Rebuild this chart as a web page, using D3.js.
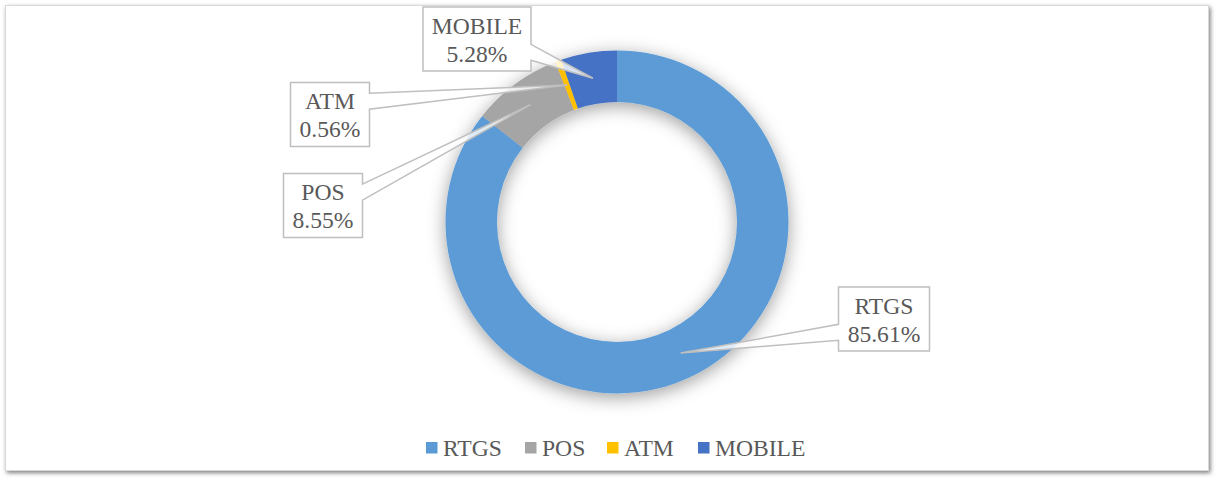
<!DOCTYPE html>
<html>
<head>
<meta charset="utf-8">
<script src="https://cdn.jsdelivr.net/npm/d3@7"></script>
<style>
  html, body { margin: 0; padding: 0; background: #fff; }
  svg text { font-family: "Liberation Serif", "Times New Roman", serif; fill: #595959; }
</style>
</head>
<body>
<div id="wrapper"></div>
<script>
var categories = ["RTGS", "POS", "ATM", "MOBILE"];
var shares = [85.61, 8.55, 0.56, 5.28];
var labelText = ["85.61%", "8.55%", "0.56%", "5.28%"];
var colors = ["#5B9BD5", "#A5A5A5", "#FFC000", "#4472C4"];

// callout box centres (layout only)
var calloutPos = [[884, 319], [323, 205.5], [330, 114.5], [477, 39]];

var W = 1216, H = 479;
var cx = 617, cy = 222, rOut = 171.5, rIn = 120;

var svg = d3.select("#wrapper").append("svg")
    .attr("width", W).attr("height", H);

var defs = svg.append("defs");
var fs = defs.append("filter").attr("id", "frameShadow")
    .attr("x", "-5%").attr("y", "-5%").attr("width", "110%").attr("height", "110%");
fs.append("feDropShadow").attr("dx", 1.5).attr("dy", 2).attr("stdDeviation", 2.2)
    .attr("flood-color", "#000").attr("flood-opacity", 0.5);

var ds = defs.append("filter").attr("id", "donutShadow")
    .attr("x", "-30%").attr("y", "-30%").attr("width", "160%").attr("height", "160%");
ds.append("feDropShadow").attr("dx", 0).attr("dy", 4).attr("stdDeviation", 9)
    .attr("flood-color", "#000").attr("flood-opacity", 0.38);

// chart frame
svg.append("rect")
    .attr("x", 5.5).attr("y", 5.5).attr("width", 1203).attr("height", 465)
    .attr("fill", "#fff").attr("stroke", "#d9d9d9").attr("stroke-width", 1)
    .attr("filter", "url(#frameShadow)");

var pie = d3.pie().sort(null).value(function(d) { return d; });
var arc = d3.arc().innerRadius(rIn).outerRadius(rOut);
var arcs = pie(shares);

var g = svg.append("g").attr("transform", "translate(" + cx + "," + cy + ")");
var ring = g.append("g").attr("filter", "url(#donutShadow)");
ring.selectAll("path")
  .data(arcs)
  .enter().append("path")
    .attr("d", arc)
    .attr("fill", function(d, i) { return colors[i]; });

// data callouts (wedge rectangle callouts)
var callouts = svg.append("g");
arcs.forEach(function(d, i) {
  var c = arc.centroid(d);
  var tip = [cx + c[0], cy + c[1]];
  var box = callouts.append("g");
  var path = box.append("path");
  var t1 = box.append("text").attr("text-anchor", "middle")
      .style("font-size", "23.6px").text(categories[i]);
  var t2 = box.append("text").attr("text-anchor", "middle")
      .style("font-size", "23.6px").text(labelText[i]);
  var tw = Math.max(t1.node().getComputedTextLength(), t2.node().getComputedTextLength());
  var w = Math.round(tw + 18), h = 64;
  var l = calloutPos[i][0] - w / 2, t = calloutPos[i][1] - h / 2, r = l + w, b = t + h;
  t1.attr("x", calloutPos[i][0]).attr("y", t + 26.5);
  t2.attr("x", calloutPos[i][0]).attr("y", t + 54.5);

  var dx = tip[0] - calloutPos[i][0], dy = tip[1] - calloutPos[i][1];
  var dq = dx * h / w;
  var x1 = l + w * (dx > 0 ? 7 : 2) / 12, x2 = l + w * (dx > 0 ? 10 : 5) / 12;
  var y1 = t + h * (dy > 0 ? 7 : 2) / 12, y2 = t + h * (dy > 0 ? 10 : 5) / 12;
  var pts;
  if (Math.abs(dy) - Math.abs(dq) > 0) {
    if (dy < 0) pts = [[l, t], [x1, t], tip, [x2, t], [r, t], [r, b], [l, b]];
    else pts = [[l, t], [r, t], [r, b], [x2, b], tip, [x1, b], [l, b]];
  } else {
    if (dx > 0) pts = [[l, t], [r, t], [r, y1], tip, [r, y2], [r, b], [l, b]];
    else pts = [[l, t], [r, t], [r, b], [l, b], [l, y2], tip, [l, y1]];
  }
  path.attr("d", d3.line()(pts) + "Z")
      .attr("fill", "#fff").attr("fill-opacity", 0.8)
      .attr("stroke", "#bfbfbf").attr("stroke-width", 1.5)
      .attr("stroke-linejoin", "miter");
});

// legend
var legendX = [426, 525, 607, 698];
var legend = svg.append("g");
categories.forEach(function(name, i) {
  legend.append("rect")
      .attr("x", legendX[i]).attr("y", 442).attr("width", 11.5).attr("height", 11.5)
      .attr("fill", colors[i]);
  legend.append("text")
      .attr("x", legendX[i] + 17).attr("y", 456)
      .style("font-size", "23.6px").text(name);
});
</script>
</body>
</html>
